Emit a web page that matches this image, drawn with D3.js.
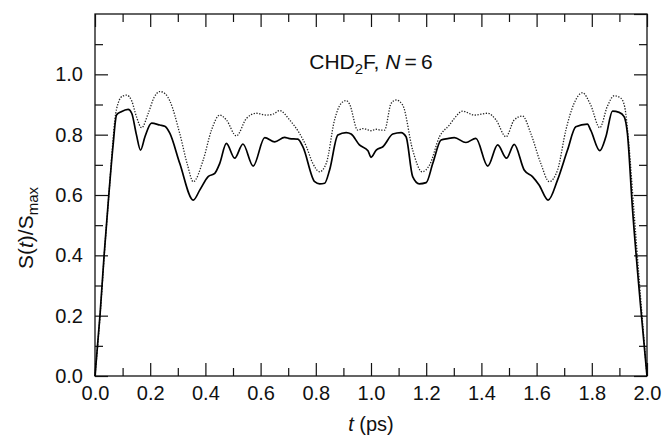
<!DOCTYPE html>
<html>
<head>
<meta charset="utf-8">
<script src="https://cdn.jsdelivr.net/npm/d3@7"></script>
<style>
  body { margin: 0; background: #fff; }
  svg text { font-family: "Liberation Sans", Arial, Helvetica, sans-serif; fill: #111; }
</style>
</head>
<body>
<div id="chart"></div>
<script>
// time axis (ps) and normalised signal
var tSolid = [0, 0.018, 0.033, 0.05, 0.065, 0.078, 0.095, 0.12, 0.133, 0.15, 0.165, 0.181, 0.205, 0.235, 0.253, 0.271,
  0.307, 0.356, 0.38, 0.41, 0.434, 0.452, 0.476, 0.506, 0.536, 0.573, 0.615, 0.651, 0.687, 0.705, 0.735, 0.753,
  0.796, 0.814, 0.832, 0.85, 0.88, 0.91, 0.928, 0.958, 0.989, 1.0, 1.019, 1.043, 1.079, 1.109, 1.127, 1.151,
  1.175, 1.2, 1.224, 1.254, 1.278, 1.302, 1.344, 1.38, 1.423, 1.459, 1.491, 1.519, 1.555, 1.585, 1.609, 1.642,
  1.676, 1.712, 1.742, 1.784, 1.796, 1.829, 1.851, 1.875, 1.899, 1.917, 1.929, 1.947, 1.975, 2.0];
var sSolid = [0, 0.2, 0.4, 0.6, 0.76, 0.865, 0.876, 0.884, 0.871, 0.80, 0.749, 0.793, 0.838, 0.832, 0.828, 0.805,
  0.705, 0.583, 0.617, 0.661, 0.672, 0.705, 0.771, 0.722, 0.769, 0.696, 0.790, 0.776, 0.791, 0.787, 0.785, 0.76,
  0.644, 0.637, 0.639, 0.683, 0.799, 0.807, 0.802, 0.766, 0.747, 0.725, 0.749, 0.760, 0.802, 0.807, 0.793, 0.661,
  0.637, 0.641, 0.705, 0.782, 0.787, 0.790, 0.774, 0.788, 0.696, 0.766, 0.722, 0.768, 0.683, 0.661, 0.633, 0.583,
  0.650, 0.749, 0.826, 0.835, 0.815, 0.747, 0.793, 0.878, 0.874, 0.86, 0.804, 0.56, 0.25, 0];

var tDotted = [0, 0.02, 0.035, 0.052, 0.065, 0.072, 0.084, 0.1, 0.115, 0.133, 0.15, 0.169, 0.193, 0.215, 0.235, 0.255,
  0.271, 0.307, 0.335, 0.356, 0.392, 0.422, 0.452, 0.476, 0.512, 0.549, 0.585, 0.621, 0.645, 0.669, 0.705, 0.741,
  0.766, 0.789, 0.814, 0.838, 0.868, 0.892, 0.91, 0.922, 0.952, 0.97, 0.982, 1.0, 1.019, 1.035, 1.049, 1.073,
  1.091, 1.115, 1.151, 1.185, 1.212, 1.248, 1.284, 1.302, 1.332, 1.374, 1.423, 1.453, 1.489, 1.519, 1.549, 1.579,
  1.615, 1.646, 1.676, 1.706, 1.736, 1.766, 1.796, 1.829, 1.856, 1.881, 1.905, 1.919, 1.935, 1.95, 1.975, 2.0];
var sDotted = [0, 0.22, 0.42, 0.62, 0.78, 0.849, 0.905, 0.928, 0.931, 0.912, 0.86, 0.823, 0.871, 0.925, 0.943, 0.935,
  0.912, 0.804, 0.70, 0.644, 0.716, 0.815, 0.865, 0.849, 0.796, 0.854, 0.871, 0.865, 0.868, 0.880, 0.849, 0.804,
  0.76, 0.705, 0.677, 0.705, 0.849, 0.904, 0.913, 0.902, 0.815, 0.82, 0.818, 0.813, 0.818, 0.815, 0.815, 0.904,
  0.915, 0.898, 0.749, 0.677, 0.699, 0.793, 0.832, 0.854, 0.878, 0.865, 0.871, 0.849, 0.793, 0.849, 0.862, 0.804,
  0.705, 0.644, 0.683, 0.815, 0.904, 0.939, 0.898, 0.823, 0.893, 0.929, 0.921, 0.893, 0.76, 0.58, 0.28, 0];

var xMajor = [0, 0.2, 0.4, 0.6, 0.8, 1.0, 1.2, 1.4, 1.6, 1.8, 2.0];
var xMinor = [0.1, 0.3, 0.5, 0.7, 0.9, 1.1, 1.3, 1.5, 1.7, 1.9];
var yMajor = [0, 0.2, 0.4, 0.6, 0.8, 1.0];
var yMinor = [0.1, 0.3, 0.5, 0.7, 0.9, 1.1];

var width = 663, height = 436;
var svg = d3.select("#chart").append("svg")
    .attr("width", width)
    .attr("height", height);

var x = d3.scaleLinear().domain([0, 2]).range([95, 647]);
var y = d3.scaleLinear().domain([0, 1.2]).range([376, 14]);

// ticks, all pointing inwards
function drawAxis(axis, tr, labels) {
    var g = svg.append("g").attr("transform", tr).call(axis);
    g.select(".domain").remove();
    g.selectAll("line").attr("stroke", "#111").attr("stroke-width", 1.2);
    g.selectAll("text").style("font-size", "20px").attr("fill", "#111");
    if (!labels) g.selectAll("text").remove();
    return g;
}

var fmt = d3.format(".1f");
drawAxis(d3.axisBottom(x).tickValues(xMajor).tickFormat(fmt).tickSizeInner(-13).tickSizeOuter(0).tickPadding(10),
    "translate(0," + y(0) + ")", true);
drawAxis(d3.axisBottom(x).tickValues(xMinor).tickSizeInner(-8).tickSizeOuter(0), "translate(0," + y(0) + ")", false);
drawAxis(d3.axisTop(x).tickValues(xMajor).tickSizeInner(-13).tickSizeOuter(0), "translate(0," + y(1.2) + ")", false);
drawAxis(d3.axisTop(x).tickValues(xMinor).tickSizeInner(-8).tickSizeOuter(0), "translate(0," + y(1.2) + ")", false);

drawAxis(d3.axisLeft(y).tickValues(yMajor).tickFormat(fmt).tickSizeInner(-13).tickSizeOuter(0).tickPadding(12),
    "translate(" + x(0) + ",0)", true);
drawAxis(d3.axisLeft(y).tickValues(yMinor).tickSizeInner(-8).tickSizeOuter(0), "translate(" + x(0) + ",0)", false);
drawAxis(d3.axisRight(y).tickValues(yMajor.concat([1.2])).tickSizeInner(-13).tickSizeOuter(0), "translate(" + x(2) + ",0)", false);
drawAxis(d3.axisRight(y).tickValues(yMinor).tickSizeInner(-8).tickSizeOuter(0), "translate(" + x(2) + ",0)", false);

// frame
svg.append("rect")
    .attr("x", x(0)).attr("y", y(1.2))
    .attr("width", x(2) - x(0)).attr("height", y(0) - y(1.2))
    .attr("fill", "none").attr("stroke", "#111").attr("stroke-width", 1.3);

var line = d3.line()
    .x(function (d) { return x(d[0]); })
    .y(function (d) { return y(d[1]); })
    .curve(d3.curveMonotoneX);

svg.append("path")
    .datum(d3.zip(tDotted, sDotted))
    .attr("d", line)
    .attr("fill", "none")
    .attr("stroke", "#222")
    .attr("stroke-width", 1.3)
    .attr("stroke-dasharray", "1.3,1.5");

svg.append("path")
    .datum(d3.zip(tSolid, sSolid))
    .attr("d", line)
    .attr("fill", "none")
    .attr("stroke", "#000")
    .attr("stroke-width", 1.7)
    .attr("stroke-linejoin", "round");

// title inside the plot
var title = svg.append("text")
    .attr("x", x(1.0)).attr("y", 69)
    .attr("text-anchor", "middle")
    .style("font-size", "21px");
title.append("tspan").text("CHD");
title.append("tspan").attr("dy", 5).style("font-size", "15px").text("2");
title.append("tspan").attr("dy", -5).text("F, ");
title.append("tspan").style("font-style", "italic").text("N");
title.append("tspan").text("\u2009=\u20096");

// axis labels
var xl = svg.append("text")
    .attr("x", x(1.0)).attr("y", 431)
    .attr("text-anchor", "middle")
    .style("font-size", "20px");
xl.append("tspan").style("font-style", "italic").text("t");
xl.append("tspan").text(" (ps)");

var yl = svg.append("text")
    .attr("transform", "translate(33,228) rotate(-90)")
    .attr("text-anchor", "middle")
    .style("font-size", "21px");
yl.append("tspan").text("S(");
yl.append("tspan").style("font-style", "italic").text("t");
yl.append("tspan").text(")/S");
yl.append("tspan").attr("dy", 5).style("font-size", "15px").text("max");
</script>
</body>
</html>
